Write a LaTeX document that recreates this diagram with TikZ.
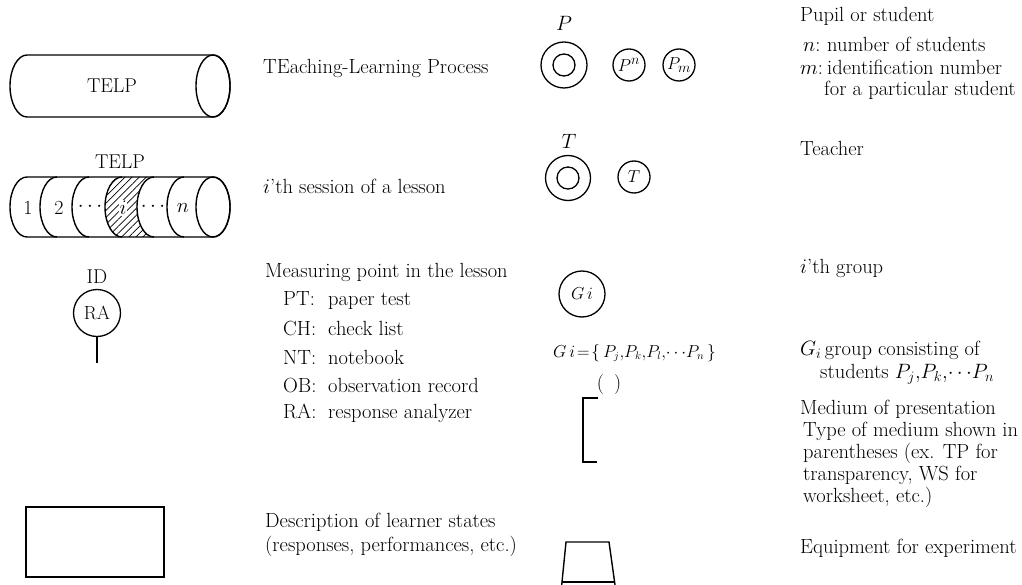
\documentclass[tikz,border=0pt]{standalone}
\usetikzlibrary{patterns.meta}
\begin{document}
\begin{tikzpicture}[x=1pt,y=1pt,
  txt/.style={font=\fontsize{20.5}{24}\selectfont, inner sep=0pt, anchor=west},
  ctr/.style={font=\fontsize{20}{24}\selectfont, inner sep=0pt},
  sym/.style={line width=1.4pt},
  ring/.style={circle, draw, line width=1.3pt, inner sep=0pt, font=\fontsize{19}{22}\selectfont},
  hatch/.style={pattern={Lines[angle=45,distance=5pt,line width=0.7pt]}}]
\useasboundingbox (0,0) rectangle (1022,-585);

% ---- TELP cylinder ----
\draw[sym] (27,-55) -- (213,-55) arc[start angle=90,end angle=-90,x radius=17pt,y radius=31pt]
  -- (27,-117) arc[start angle=270,end angle=90,x radius=17pt,y radius=31pt] -- cycle;
\draw[sym] (213,-86) ellipse[x radius=17pt,y radius=31pt];
\node[ctr] (telpA) at (112,-86) {TELP};
\node[txt] (telpAtxt) at (263,-68) {TEaching-Learning Process};

% ---- sessions of a lesson ----
\fill[hatch] (122,-177) -- (154,-177) arc[start angle=90,end angle=270,x radius=17pt,y radius=30pt]
  -- (122,-237) arc[start angle=270,end angle=90,x radius=17pt,y radius=30pt] -- cycle;
\draw[sym] (27,-177) -- (213,-177) arc[start angle=90,end angle=-90,x radius=17pt,y radius=30pt]
  -- (27,-237) arc[start angle=270,end angle=90,x radius=17pt,y radius=30pt] -- cycle;
\draw[sym] (213,-207) ellipse[x radius=17pt,y radius=30pt];
\foreach \cx in {57,89,122,154,184}
  \draw[sym] (\cx,-177) arc[start angle=90,end angle=270,x radius=17pt,y radius=30pt];
\node[ctr] (telpB) at (120,-162) {TELP};
\node[ctr] (s1) at (28,-208) {1};
\node[ctr] (s2) at (59,-208) {2};
\node[ctr] (sd1) at (90,-207) {$\cdots$};
\node[ctr, fill=white, inner sep=1pt] (si) at (123,-208) {$i$};
\node[ctr] (sd2) at (153,-207) {$\cdots$};
\node[ctr] (sn) at (183,-208) {$n$};
\node[txt] (sesstxt) at (263,-186) {$i$'th session of a lesson};

% ---- measuring point ----
\node[ring, minimum size=47pt] (ra) at (97,-313) {RA};
\node[ctr] (id) at (97,-277) {ID};
\coordinate (stem) at (97,-363);
\draw[line width=2pt] (ra.south) -- (stem);
\node[txt] (meas) at (265,-272) {Measuring point in the lesson};
\node[txt] (mPT) at (283,-300) {\makebox[45pt][l]{PT:}paper test};
\node[txt] (mCH) at (283,-328) {\makebox[45pt][l]{CH:}check list};
\node[txt] (mNT) at (283,-357) {\makebox[45pt][l]{NT:}notebook};
\node[txt] (mOB) at (283,-385) {\makebox[45pt][l]{OB:}observation record};
\node[txt] (mRA) at (283,-413) {\makebox[45pt][l]{RA:}response analyzer};

% ---- learner states ----
\node[draw, line width=1.3pt, minimum width=138pt, minimum height=70pt, inner sep=0pt] (state) at (95,-542) {};
\node[txt] (stateA) at (265,-522) {Description of learner states};
\node[txt] (stateB) at (265,-546) {(responses, performances, etc.)};

% ---- pupil ----
\node[ctr] (plbl) at (564,-23) {$P$};
\node[ring, minimum size=46pt] (pout) at (564,-65) {};
\node[ring, minimum size=22pt] (pin) at (564,-65) {};
\node[ring, minimum size=32pt] (pn) at (629,-65) {$P^n$};
\node[ring, minimum size=32pt] (pm) at (679,-65) {$P_m$};
\node[txt] (pupA) at (800,-16) {Pupil or student};
\node[txt] (pupB) at (803,-44) {\makebox[24pt][l]{$n$:}number of students};
\node[txt] (pupC) at (800,-67) {\makebox[27pt][l]{$m$:}identification number};
\node[txt] (pupD) at (824,-90) {for a particular student};

% ---- teacher ----
\node[ctr] (tlbl) at (569,-141) {$T$};
\node[ring, minimum size=45pt] (tout) at (568,-178) {};
\node[ring, minimum size=22pt] (tin) at (568,-178) {};
\node[ring, minimum size=32pt] (tt) at (634,-177) {$T$};
\node[txt] (teach) at (800,-148) {Teacher};

% ---- group ----
\node[ring, minimum size=46pt] (gi) at (582,-294) {$G\,i$};
\node[txt] (grp) at (800,-268) {$i$'th group};
\node[txt, font=\fontsize{16}{19}\selectfont] (gset) at (553,-353)
  {$G\,i\!=\!\{\,P_j,\!P_k,\!P_l,\!\cdots\!P_n\,\}$};
\node[txt] (gdefA) at (800,-350) {$G_i$\,group consisting of};
\node[txt] (gdefB) at (820,-374) {students $P_j{,}P_k{,}\!\cdots\!P_n$};

% ---- medium of presentation ----
\node[ctr] (par) at (609,-385) {(\hspace{10pt})};
\coordinate (brTop) at (598,-398);
\coordinate (brBot) at (597,-462);
\draw[sym] (brTop) -- (583,-398) -- (583,-462) -- (brBot);
\node[txt] (medA) at (800,-409) {Medium of presentation};
\node[txt] (medB) at (803,-431) {Type of medium shown in};
\node[txt] (medC) at (803,-453) {parentheses (ex. TP for};
\node[txt] (medD) at (803,-475) {transparency, WS for};
\node[txt] (medE) at (803,-497) {worksheet, etc.)};

% ---- equipment ----
\draw[sym] (561,-592) -- (566,-542) -- (609,-542) -- (616,-592);
\draw[sym] (562,-582) -- (615,-582);
\node[txt] (equip) at (800,-548) {Equipment for experiment};
\end{tikzpicture}
\end{document}
